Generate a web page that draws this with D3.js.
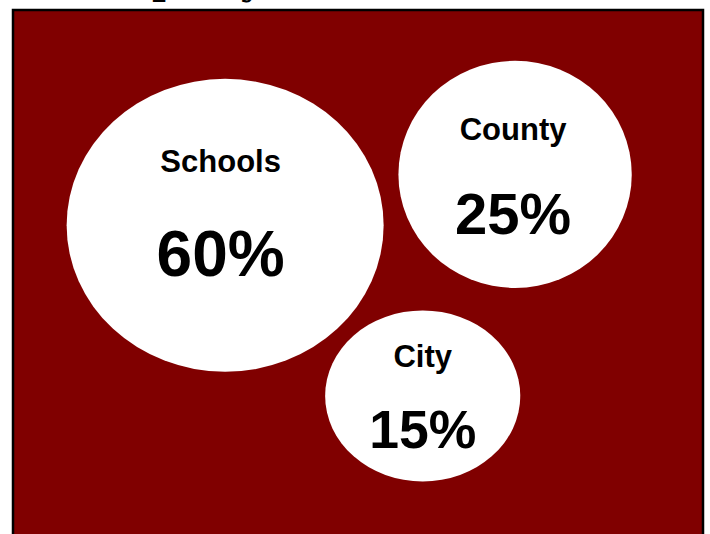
<!DOCTYPE html>
<html>
<head>
<meta charset="utf-8">
<script src="https://cdn.jsdelivr.net/npm/d3@7"></script>
<style>
  html, body { margin: 0; padding: 0; background: #ffffff; }
  svg { display: block; }
</style>
</head>
<body>
<svg id="chart" width="710" height="534"></svg>
<script>
// Share of the property tax bill by recipient
const categories = ["Schools", "County", "City"];
const shares = [60, 25, 15];
const shareLabels = ["60%", "25%", "15%"];

// Bubble placement in percent of the panel, plus ellipse squash and text offsets
const layout = [
  { px: 30.8, py: 41.2, squash: 0.924, dx: -4.5, labelDy: -53.5, valueDy: 51 },
  { px: 72.7, py: 31.5, squash: 0.973, dx: -2,   labelDy: -34.5, valueDy: 59.5 },
  { px: 59.35, py: 73.7, squash: 0.876, dx: 0,   labelDy: -29.2, valueDy: 52 }
];

const panel = { left: 13, top: 10, right: 703, bottom: 545 };

const svg = d3.select("#chart");

// Title (sits above the visible area of the panel)
svg.append("text")
  .attr("x", 78)
  .attr("y", -6)
  .attr("font-family", "'DejaVu Serif', Georgia, serif")
  .attr("font-weight", "bold")
  .attr("font-size", 38)
  .attr("fill", "#000")
  .text("Property Tax Distribution");

// Dark red panel with black frame
svg.append("rect")
  .attr("x", panel.left)
  .attr("y", panel.top)
  .attr("width", panel.right - panel.left)
  .attr("height", panel.bottom - panel.top)
  .attr("fill", "#800000")
  .attr("stroke", "#000")
  .attr("stroke-width", 2.5);

const x = d3.scaleLinear().domain([0, 100]).range([12, 704]);
const y = d3.scaleLinear().domain([0, 100]).range([9, 534]);
const r = d3.scalePow().exponent(0.35).domain([0, 60]).range([0, 158.5]);
const valueSize = d3.scaleLinear().domain([15, 25, 60]).range([53.5, 58, 64]);

const data = categories.map((c, i) => ({
  name: c, share: shares[i], label: shareLabels[i], pos: layout[i]
}));

const g = svg.selectAll("g.bubble")
  .data(data)
  .join("g")
  .attr("class", "bubble")
  .attr("transform", d => `translate(${x(d.pos.px)},${y(d.pos.py)})`);

g.append("ellipse")
  .attr("rx", d => r(d.share))
  .attr("ry", d => r(d.share) * d.pos.squash)
  .attr("fill", "#ffffff");

g.append("text")
  .attr("x", d => d.pos.dx)
  .attr("y", d => d.pos.labelDy)
  .attr("text-anchor", "middle")
  .attr("font-family", "'Liberation Sans', Arial, sans-serif")
  .attr("font-weight", "bold")
  .attr("font-size", 31)
  .attr("fill", "#000")
  .text(d => d.name);

g.append("text")
  .attr("x", d => d.pos.dx)
  .attr("y", d => d.pos.valueDy)
  .attr("text-anchor", "middle")
  .attr("font-family", "'Liberation Sans', Arial, sans-serif")
  .attr("font-weight", "bold")
  .attr("font-size", d => valueSize(d.share))
  .attr("fill", "#000")
  .text(d => d.label);
</script>
</body>
</html>
